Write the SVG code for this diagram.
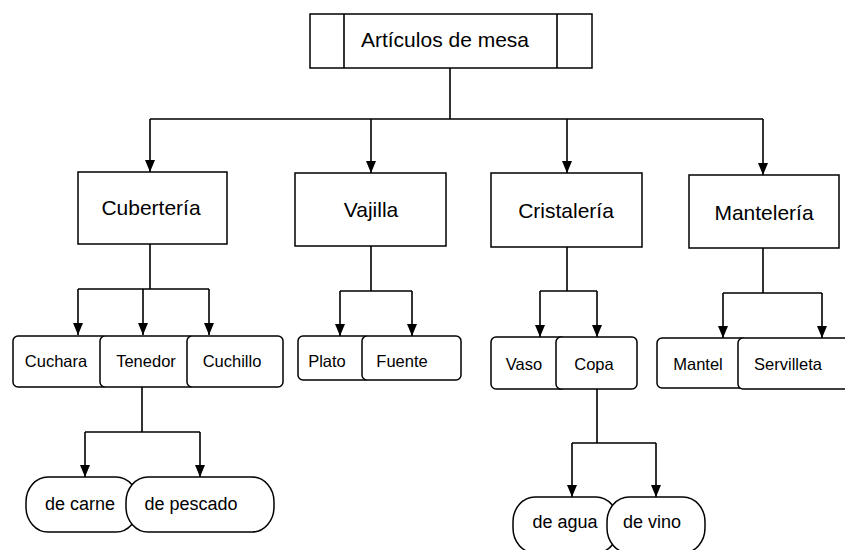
<svg xmlns="http://www.w3.org/2000/svg" width="845" height="550" viewBox="0 0 845 550">
<defs>
<marker id="arr" viewBox="0 0 12 10" markerWidth="12" markerHeight="10" refX="12" refY="5" orient="auto" markerUnits="userSpaceOnUse">
<path d="M0,0 L12,5 L0,10 z" fill="#000"/>
</marker>
<style>
.box{fill:#fff;stroke:#000;stroke-width:1.5}
.t{font-family:"Liberation Sans",Arial,sans-serif;fill:#000;text-anchor:middle}
.t1{font-size:21px}
.t2{font-size:16.5px}
.t3{font-size:18px}
.ln{fill:none;stroke:#000;stroke-width:1.6}
.ar{fill:none;stroke:#000;stroke-width:1.6;marker-end:url(#arr)}
</style>
</defs>
<rect width="845" height="550" fill="#fff"/>
<g id="connectors">
<path class="ln" d="M450,68 V119 M150,119 H763"/>
<path class="ar" d="M150,119 V172"/>
<path class="ar" d="M371,119 V173"/>
<path class="ar" d="M567,119 V173"/>
<path class="ar" d="M763,119 V175"/>
<path class="ln" d="M150,244 V289 M78,289 H209"/>
<path class="ar" d="M78,289 V335"/>
<path class="ar" d="M143,289 V335"/>
<path class="ar" d="M209,289 V335"/>
<path class="ln" d="M371,246 V291 M340,291 H412"/>
<path class="ar" d="M340,291 V336"/>
<path class="ar" d="M412,291 V336"/>
<path class="ln" d="M567,247 V291 M540,291 H597"/>
<path class="ar" d="M540,291 V337"/>
<path class="ar" d="M597,291 V337"/>
<path class="ln" d="M763,248 V293 M723,293 H822"/>
<path class="ar" d="M723,293 V338"/>
<path class="ar" d="M822,293 V338"/>
<path class="ln" d="M142,387 V432 M85,432 H200"/>
<path class="ar" d="M85,432 V477"/>
<path class="ar" d="M200,432 V477"/>
<path class="ln" d="M597,389 V443 M572,443 H656"/>
<path class="ar" d="M572,443 V497"/>
<path class="ar" d="M656,443 V497"/>
</g>
<g id="root">
<rect class="box" x="310" y="14" width="282" height="54"/>
<path class="ln" d="M344,14 V68 M557,14 V68"/>
<text class="t t1" x="445" y="47">Artículos de mesa</text>
</g>
<g id="cuberteria">
<rect class="box" x="78" y="172" width="149" height="72"/>
<text class="t t1" x="151" y="215">Cubertería</text>
</g>
<g id="vajilla">
<rect class="box" x="295" y="173" width="151" height="73"/>
<text class="t t1" x="371" y="217">Vajilla</text>
</g>
<g id="cristaleria">
<rect class="box" x="491" y="173" width="151" height="74"/>
<text class="t t1" x="566" y="218">Cristalería</text>
</g>
<g id="manteleria">
<rect class="box" x="689" y="175" width="150" height="73"/>
<text class="t t1" x="764" y="220">Mantelería</text>
</g>
<g id="cuchara">
<rect class="box" x="13" y="336" width="95" height="51" rx="5"/>
<text class="t t2" x="56" y="367">Cuchara</text>
</g>
<g id="tenedor">
<rect class="box" x="100" y="336" width="95" height="51" rx="5"/>
<text class="t t2" x="146" y="367">Tenedor</text>
</g>
<g id="cuchillo">
<rect class="box" x="187" y="336" width="96" height="51" rx="5"/>
<text class="t t2" x="232" y="367">Cuchillo</text>
</g>
<g id="plato">
<rect class="box" x="298" y="336" width="72" height="44" rx="5"/>
<text class="t t2" x="327" y="367">Plato</text>
</g>
<g id="fuente">
<rect class="box" x="362" y="336" width="99" height="44" rx="5"/>
<text class="t t2" x="402" y="367">Fuente</text>
</g>
<g id="vaso">
<rect class="box" x="491" y="337" width="75" height="52" rx="5"/>
<text class="t t2" x="524" y="370">Vaso</text>
</g>
<g id="copa">
<rect class="box" x="556" y="337" width="81" height="52" rx="5"/>
<text class="t t2" x="594" y="370">Copa</text>
</g>
<g id="mantel">
<rect class="box" x="657" y="338" width="90" height="50" rx="5"/>
<text class="t t2" x="698" y="370">Mantel</text>
</g>
<g id="servilleta">
<rect class="box" x="738" y="338" width="115" height="51" rx="5"/>
<text class="t t2" x="788" y="370">Servilleta</text>
</g>
<g id="de-carne">
<rect class="box" x="26" y="477" width="112" height="55" rx="22" ry="25"/>
<text class="t t3" x="80" y="510">de carne</text>
</g>
<g id="de-pescado">
<rect class="box" x="126" y="477" width="148" height="55" rx="22" ry="25"/>
<text class="t t3" x="191" y="510">de pescado</text>
</g>
<g id="de-agua">
<rect class="box" x="513" y="497" width="105" height="56" rx="22" ry="25"/>
<text class="t t3" x="565" y="528">de agua</text>
</g>
<g id="de-vino">
<rect class="box" x="607" y="497" width="98" height="56" rx="22" ry="25"/>
<text class="t t3" x="652" y="528">de vino</text>
</g>
</svg>
